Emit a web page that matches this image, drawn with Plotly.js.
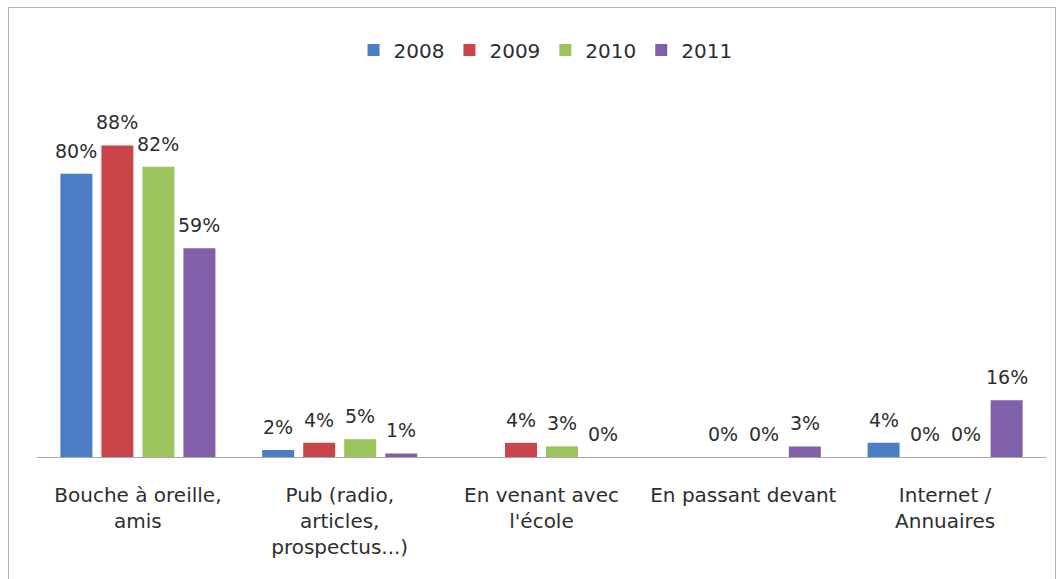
<!DOCTYPE html>
<html>
<head>
<meta charset="utf-8">
<script src="https://cdn.plot.ly/plotly-3.0.1.min.js"></script>
<style>
html,body{margin:0;padding:0;background:#fff;}
#chart{position:absolute;left:0;top:0;width:1062px;height:579px;}
#frame{position:absolute;left:8px;top:7px;width:1046px;height:580px;border:1px solid #b4b4b4;pointer-events:none;}
</style>
</head>
<body>
<div id="chart"></div>
<div id="frame"></div>
<script>
const categories = [
  "Bouche à oreille,<br>amis",
  "Pub (radio,<br>articles,<br>prospectus...)",
  "En venant avec<br>l'école",
  "En passant devant",
  "Internet /<br>Annuaires"
];
const years = ["2008", "2009", "2010", "2011"];
const v2008 = [80, 2, null, null, 4];
const v2009 = [88, 4, 4, 0, 0];
const v2010 = [82, 5, 3, 0, 0];
const v2011 = [59, 1, 0, 3, 16];
const seriesValues = [v2008, v2009, v2010, v2011];
const colors = ["#4a7ec4", "#c9454a", "#9cc45c", "#7f5fa8"];

const FONT = "DejaVu Sans, sans-serif";
const TXT = "#2e2e2e";

const traces = years.map((y, i) => ({
  type: "bar",
  name: y,
  x: categories,
  y: seriesValues[i],
  marker: {color: colors[i]},
  hoverinfo: "skip"
}));

// value labels above each bar (offset per series to sit over its bar)
const slot = 41;
const annotations = [];
seriesValues.forEach((vals, i) => {
  vals.forEach((v, j) => {
    if (v === null) return;
    annotations.push({
      x: categories[j], y: v, xref: "x", yref: "y",
      text: v + "%", showarrow: false,
      xshift: (i - 1.5) * slot, yshift: 23,
      yanchor: "middle", xanchor: "center",
      font: {family: FONT, size: 19, color: TXT}
    });
  });
});

const layout = {
  width: 1062, height: 579,
  margin: {l: 37, r: 16, t: 103, b: 122},
  paper_bgcolor: "#ffffff", plot_bgcolor: "#ffffff",
  barmode: "group", bargap: 0.187, bargroupgap: 0.22,
  showlegend: true,
  legend: {
    orientation: "h", x: 0.504, xanchor: "center", y: 1.15, yanchor: "middle",
    font: {family: FONT, size: 20, color: TXT}, traceorder: "normal"
  },
  xaxis: {
    showline: true, linecolor: "#a8a8a8", linewidth: 1,
    ticks: "", showgrid: false, zeroline: false,
    ticklabelstandoff: 20,
    tickfont: {family: FONT, size: 20, color: TXT}
  },
  yaxis: {range: [0, 100], visible: false, showgrid: false, zeroline: false},
  annotations: annotations,
  font: {family: FONT, color: TXT}
};

Plotly.newPlot("chart", traces, layout, {displayModeBar: false, staticPlot: true});
</script>
</body>
</html>
